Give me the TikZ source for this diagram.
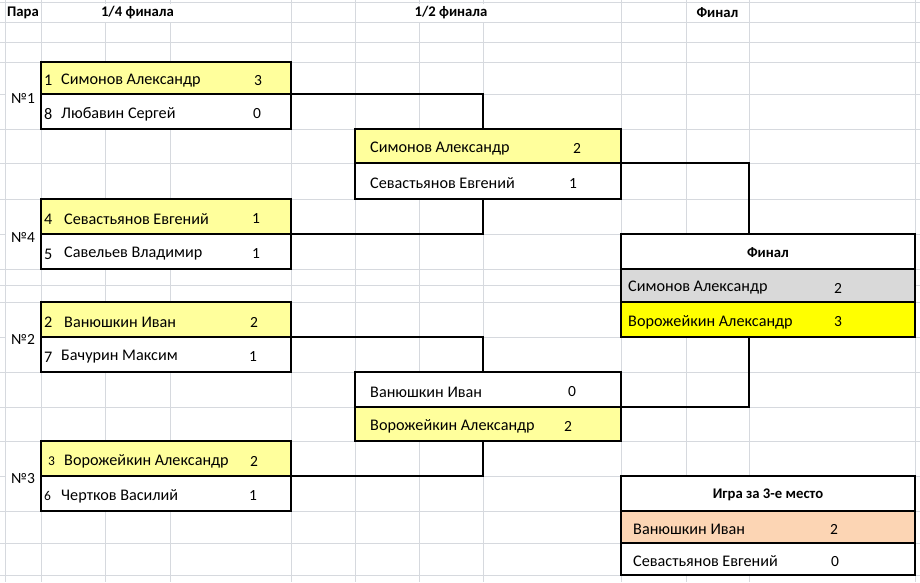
\documentclass[tikz,border=0pt]{standalone}
\usepackage{fontspec}
\setmainfont{Carlito}
\definecolor{gridc}{HTML}{D6D9DE}
\definecolor{lyel}{HTML}{FFFF9C}
\definecolor{byel}{HTML}{FFFF00}
\definecolor{lgray}{HTML}{D9D9D9}
\definecolor{peach}{HTML}{FCD5B4}
\tikzset{
  gridline/.style={draw=gridc, line width=1pt},
  rowbox/.style={rectangle, draw=black, line width=1.1pt, inner sep=0pt, minimum width=#1},
  txt/.style={font=\fontsize{16.2}{18}\selectfont, inner sep=0pt, anchor=west, yshift=-1.5pt},
  sc/.style={font=\fontsize{15.5}{17}\selectfont, inner sep=0pt, yshift=-1.5pt},
  smallnum/.style={font=\fontsize{13.5}{15}\selectfont, inner sep=0pt, anchor=west, yshift=-1.5pt},
  hdr/.style={font=\fontsize{14.7}{16}\selectfont\bfseries, inner sep=0pt},
  colhdr/.style={font=\fontsize{14.7}{16}\selectfont\bfseries, inner ysep=0pt, inner xsep=1pt, fill=white, minimum height=18pt},
  conn/.style={draw=black, line width=1.1pt},
  cover/.style={fill=white, draw=none}
}
\begin{document}
\begin{tikzpicture}[x=1pt,y=-1pt]
\useasboundingbox (0,0) rectangle (920,582);
\fill[white] (0,0) rectangle (920,582);
% grid
\foreach \gx in {5,41,105,170,291,355,419,483,621,686,749,915}
  \draw[gridline] (\gx,0) -- (\gx,582);
\foreach \gy in {2.7,22,42,62,94,129,163,199,234,269,285,302,337,372,407,441,476,511,543,575}
  \draw[gridline] (0,\gy) -- (920,\gy);
% merged cells of column A
\foreach \ya/\yb in {62/129,199/269,302/372,441/511}
  \fill[cover] (5.6,\ya+0.6) rectangle (40.4,\yb-0.6);

% column headers
\node[hdr, anchor=west] (hpara) at (7,13) {Пара};
\node[colhdr] (hqf) at (137.5,12.5) {1/4 финала};
\node[colhdr] (hsf) at (451,12.5) {1/2 финала};
\node[hdr] (hfin) at (717.5,13) {Финал};

% pair labels
\node[sc] (p1) at (23,97) {№1};
\node[sc] (p4) at (23,236) {№4};
\node[sc] (p2) at (23,338) {№2};
\node[sc] (p3) at (23,477) {№3};

% connectors
\draw[conn] (166,94) coordinate (q1m) -| (483,129) coordinate (s1t);
\draw[conn] (166,234) coordinate (q4m) -| (483,199) coordinate (s1d);
\draw[conn] (166,337) coordinate (q2m) -| (483,372) coordinate (s2t);
\draw[conn] (166,476) coordinate (q3m) -| (483,441) coordinate (s2d);
\draw[conn] (488,163) coordinate (s1m) -| (749,234) coordinate (ft);
\draw[conn] (488,407) coordinate (s2m) -| (749,337) coordinate (fd);

% quarter-final boxes
\node[rowbox=250pt, minimum height=32pt, fill=lyel] (q1a) at (166,78) {};
\node[rowbox=250pt, minimum height=35pt, fill=white] (q1b) at (166,111.5) {};
\node[rowbox=250pt, minimum height=35pt, fill=lyel] (q4a) at (166,216.5) {};
\node[rowbox=250pt, minimum height=35pt, fill=white] (q4b) at (166,251.5) {};
\node[rowbox=250pt, minimum height=35pt, fill=lyel] (q2a) at (166,319.5) {};
\node[rowbox=250pt, minimum height=35pt, fill=white] (q2b) at (166,354.5) {};
\node[rowbox=250pt, minimum height=35pt, fill=lyel] (q3a) at (166,458.5) {};
\node[rowbox=250pt, minimum height=35pt, fill=white] (q3b) at (166,493.5) {};

% semi-final boxes
\node[rowbox=266pt, minimum height=34pt, fill=lyel] (s1a) at (488,146) {};
\node[rowbox=266pt, minimum height=36pt, fill=white] (s1b) at (488,181) {};
\node[rowbox=266pt, minimum height=35pt, fill=white] (s2a) at (488,389.5) {};
\node[rowbox=266pt, minimum height=34pt, fill=lyel] (s2b) at (488,424) {};

% final boxes
\node[rowbox=294pt, minimum height=35pt, fill=white] (fh) at (768,251.5) {};
\node[rowbox=294pt, minimum height=33pt, fill=lgray] (fa) at (768,285.5) {};
\node[rowbox=294pt, minimum height=35pt, fill=byel] (fb) at (768,319.5) {};
\node[rowbox=294pt, minimum height=35pt, fill=white] (th) at (768,493.5) {};
\node[rowbox=294pt, minimum height=32pt, fill=peach] (ta) at (768,527) {};
\node[rowbox=294pt, minimum height=32pt, fill=white] (tb) at (768,559) {};

% quarter-final texts
\node[txt] (q1an) at (44,79) {1};
\node[txt] (q1at) at (61,79) {Симонов Александр};
\node[sc]  (q1as) at (258,79) {3};
\node[txt] (q1bn) at (44,112.5) {8};
\node[txt] (q1bt) at (61,112.5) {Любавин Сергей};
\node[sc]  (q1bs) at (257,112.5) {0};

\node[txt] (q4an) at (44,217.5) {4};
\node[txt] (q4at) at (64,217.5) {Севастьянов Евгений};
\node[sc]  (q4as) at (256,217.5) {1};
\node[txt] (q4bn) at (44,252.5) {5};
\node[txt] (q4bt) at (64,252.5) {Савельев Владимир};
\node[sc]  (q4bs) at (256,252.5) {1};

\node[txt] (q2an) at (44,320.5) {2};
\node[txt] (q2at) at (64,320.5) {Ванюшкин Иван};
\node[sc]  (q2as) at (254,320.5) {2};
\node[txt] (q2bn) at (44,355.5) {7};
\node[txt] (q2bt) at (61,355.5) {Бачурин Максим};
\node[sc]  (q2bs) at (253,355.5) {1};

\node[smallnum] (q3an) at (48,459.5) {3};
\node[txt] (q3at) at (64,459.5) {Ворожейкин Александр};
\node[sc]  (q3as) at (254,459.5) {2};
\node[smallnum] (q3bn) at (44,494.5) {6};
\node[txt] (q3bt) at (61,494.5) {Чертков Василий};
\node[sc]  (q3bs) at (253,494.5) {1};

% semi-final texts
\node[txt] (s1at) at (370,147) {Симонов Александр};
\node[sc]  (s1as) at (577,147) {2};
\node[txt] (s1bt) at (370,182) {Севастьянов Евгений};
\node[sc]  (s1bs) at (573,182) {1};
\node[txt] (s2at) at (370,390.5) {Ванюшкин Иван};
\node[sc]  (s2as) at (572,390.5) {0};
\node[txt] (s2bt) at (370,425) {Ворожейкин Александр};
\node[sc]  (s2bs) at (568,425) {2};

% final texts
\node[hdr] (fht) at (768,252.5) {Финал};
\node[txt] (fat) at (628,286.5) {Симонов Александр};
\node[sc]  (fas) at (838,286.5) {2};
\node[txt] (fbt) at (628,320.5) {Ворожейкин Александр};
\node[sc]  (fbs) at (838,320.5) {3};

\node[hdr] (tht) at (768,494.5) {Игра за 3-е место};
\node[txt] (tat) at (633,528) {Ванюшкин Иван};
\node[sc]  (tas) at (834,528) {2};
\node[txt] (tbt) at (633,560) {Севастьянов Евгений};
\node[sc]  (tbs) at (835,560) {0};
\end{tikzpicture}
\end{document}
